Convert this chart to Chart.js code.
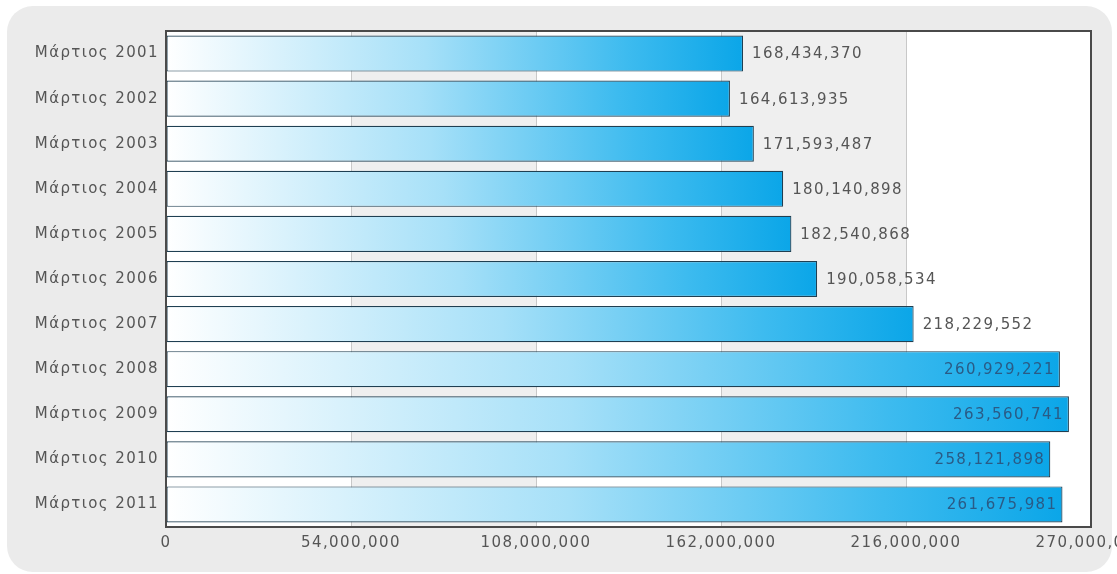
<!DOCTYPE html>
<html>
<head>
<meta charset="utf-8">
<script src="https://cdn.jsdelivr.net/npm/chart.js@4/dist/chart.umd.min.js"></script>
<style>
html,body{margin:0;padding:0;background:#fff;}
#wrap{width:1117px;height:574px;position:relative;}
</style>
</head>
<body>
<div id="wrap"><canvas id="c" width="1117" height="574"></canvas></div>
<script>
const categories = ["Μάρτιος 2001","Μάρτιος 2002","Μάρτιος 2003","Μάρτιος 2004","Μάρτιος 2005","Μάρτιος 2006","Μάρτιος 2007","Μάρτιος 2008","Μάρτιος 2009","Μάρτιος 2010","Μάρτιος 2011"];
const values = [168434370,164613935,171593487,180140898,182540868,190058534,218229552,260929221,263560741,258121898,261675981];
const xTicks = [0,54000000,108000000,162000000,216000000,270000000];

const FONT = '"DejaVu Sans", Verdana, sans-serif';
const SPACING = '1.4px';
const FSIZE = 15;
const fmt = v => v.toLocaleString('en-US');

const panelPlugin = {
  id: 'panel',
  beforeLayout(chart){ chart.ctx.letterSpacing = SPACING; },
  beforeDraw(chart){
    const ctx = chart.ctx;
    ctx.save();
    ctx.fillStyle = '#ffffff';
    ctx.fillRect(0,0,chart.width,chart.height);
    ctx.fillStyle = '#ebebeb';
    ctx.beginPath();
    ctx.roundRect(7,6,1105,566,26);
    ctx.fill();
    const a = chart.chartArea, xs = chart.scales.x;
    for (let i = 0; i < xTicks.length-1; i++){
      const x0 = xs.getPixelForValue(xTicks[i]), x1 = xs.getPixelForValue(xTicks[i+1]);
      ctx.fillStyle = (i % 2 === 1) ? '#efefef' : '#ffffff';
      ctx.fillRect(x0, a.top, x1-x0, a.bottom-a.top);
    }
    ctx.restore();
    ctx.letterSpacing = SPACING;
  },
  afterDatasetsDraw(chart){
    const ctx = chart.ctx, a = chart.chartArea;
    const meta = chart.getDatasetMeta(0);
    ctx.save();
    ctx.letterSpacing = SPACING;
    ctx.font = FSIZE + 'px ' + FONT;
    ctx.textBaseline = 'middle';
    meta.data.forEach((bar, i) => {
      const txt = fmt(values[i]);
      const w = ctx.measureText(txt).width;
      if (bar.x + 9 + w > a.right - 4){
        ctx.fillStyle = '#2a5b86';
        ctx.textAlign = 'right';
        ctx.fillText(txt, bar.x - 5, bar.y + 1);
      } else {
        ctx.fillStyle = '#555555';
        ctx.textAlign = 'left';
        ctx.fillText(txt, bar.x + 9, bar.y + 1);
      }
    });
    ctx.strokeStyle = '#4a4a4a';
    ctx.lineWidth = 2;
    ctx.strokeRect(a.left, a.top, a.right-a.left, a.bottom-a.top);
    ctx.restore();
  }
};

new Chart(document.getElementById('c'), {
  type: 'bar',
  data: {
    labels: categories,
    datasets: [{
      data: values,
      barPercentage: 0.8,
      categoryPercentage: 1.0,
      borderWidth: 1.2,
      borderColor: '#1f3f52',
      borderSkipped: false,
      backgroundColor: (c) => {
        const chart = c.chart;
        if (!chart.chartArea || c.raw === undefined) return '#12aaea';
        const xs = chart.scales.x;
        const x0 = xs.getPixelForValue(0), x1 = xs.getPixelForValue(c.raw);
        const g = chart.ctx.createLinearGradient(x0, 0, x1, 0);
        g.addColorStop(0, '#ffffff');
        g.addColorStop(0.45, '#a6e0f8');
        g.addColorStop(0.8, '#3dbbef');
        g.addColorStop(1, '#0ba6e8');
        return g;
      }
    }]
  },
  options: {
    indexAxis: 'y',
    responsive: false,
    animation: false,
    devicePixelRatio: 1,
    layout: { padding: { top: 31, right: 26, left: 0, bottom: 0 } },
    plugins: { legend: { display: false }, tooltip: { enabled: false } },
    scales: {
      x: {
        min: 0, max: 270000000,
        afterBuildTicks: s => { s.ticks = xTicks.map(v => ({ value: v })); },
        ticks: {
          color: '#555555',
          font: { family: FONT, size: FSIZE },
          padding: 7,
          maxRotation: 0,
          autoSkip: false,
          callback: v => fmt(v)
        },
        grid: { color: '#c8c8c8', lineWidth: 1, drawTicks: false },
        border: { display: false },
        afterFit: s => { s.height = 47; s.paddingLeft = 0; s.paddingRight = 0; }
      },
      y: {
        ticks: {
          color: '#555555',
          font: { family: FONT, size: FSIZE },
          padding: 7
        },
        grid: { display: false, drawTicks: false },
        border: { display: false },
        afterFit: s => { s.width = 166; s.paddingTop = 0; s.paddingBottom = 0; }
      }
    }
  },
  plugins: [panelPlugin]
});
</script>
</body>
</html>
